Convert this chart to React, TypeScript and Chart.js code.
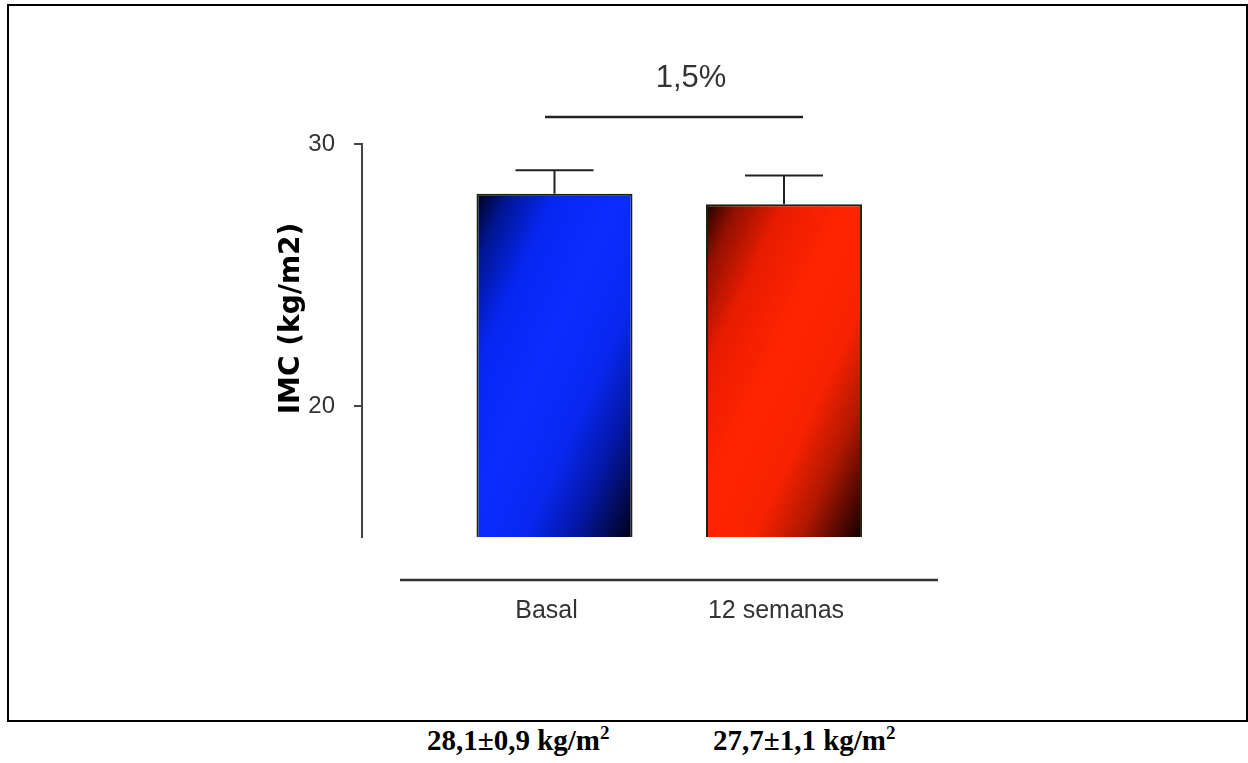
import React, { useEffect, useRef } from 'react';
import { Chart, registerables } from 'chart.js';

Chart.register(...registerables);

// ---- data ----
const categories = ['Basal', '12 semanas'];
const values = [28.1, 27.7];
const errors = [0.9, 1.1];
const yTicks = [20, 30];
const yTitle = 'IMC (kg/m2)';
const diffLabel = '1,5%';
const unitLabel = 'kg/m';

const fmt = (v: number) => v.toFixed(1).replace('.', ',');

const BLUE_STOPS: [number, string][] = [
  [0, '#000018'], [0.1, '#001590'], [0.25, '#0626f0'], [0.45, '#0a2cff'],
  [0.65, '#0828f0'], [0.8, '#0418a8'], [0.92, '#020a50'], [1, '#000010'],
];
const RED_STOPS: [number, string][] = [
  [0, '#200000'], [0.1, '#901000'], [0.25, '#e81c00'], [0.45, '#ff2400'],
  [0.65, '#f82200'], [0.8, '#b01800'], [0.92, '#500800'], [1, '#100000'],
];
const barStops = [BLUE_STOPS, RED_STOPS];
const baseColors = ['#0a2cff', '#ff2400'];

const BAR_PCT = 0.68;

export default function App() {
  const ref = useRef<HTMLCanvasElement>(null);

  useEffect(() => {
    const canvas = ref.current!;

    const decor = {
      id: 'decor',
      afterDatasetsDraw(chart: any) {
        const { ctx, chartArea } = chart;
        const xs = chart.scales.x;
        const ys = chart.scales.y;
        const meta = chart.getDatasetMeta(0);
        ctx.save();
        // error bars (upper only)
        ctx.strokeStyle = '#222';
        ctx.lineWidth = 2;
        meta.data.forEach((el: any, i: number) => {
          const x = el.x;
          const yTop = el.y;
          const yErr = ys.getPixelForValue(values[i] + errors[i]);
          const half = el.width / 4;
          ctx.beginPath();
          ctx.moveTo(x, yTop);
          ctx.lineTo(x, yErr);
          ctx.moveTo(x - half, yErr);
          ctx.lineTo(x + half, yErr);
          ctx.stroke();
        });
        // separated x-axis line
        ctx.strokeStyle = '#333';
        ctx.lineWidth = 2.5;
        const axY = chartArea.bottom + 43;
        ctx.beginPath();
        ctx.moveTo(chartArea.left + 38, axY);
        ctx.lineTo(chartArea.right, axY);
        ctx.stroke();
        // comparison bracket and label
        const by = ys.getPixelForValue(31.03);
        ctx.strokeStyle = '#222';
        ctx.lineWidth = 2.5;
        ctx.beginPath();
        ctx.moveTo(xs.getPixelForValue(0.9586), by);
        ctx.lineTo(xs.getPixelForValue(2.0828), by);
        ctx.stroke();
        ctx.fillStyle = '#333';
        ctx.font = '31px "Liberation Sans", Arial, sans-serif';
        ctx.textAlign = 'center';
        ctx.textBaseline = 'middle';
        ctx.fillText(diffLabel, xs.getPixelForValue(1.5948), ys.getPixelForValue(32.5));
        // y-axis title
        ctx.translate(chartArea.left - 70, (chartArea.top + chartArea.bottom) / 2 - 22);
        ctx.rotate(-Math.PI / 2);
        ctx.fillStyle = '#000';
        ctx.font = 'bold 28px "DejaVu Sans", sans-serif';
        ctx.fillText(yTitle, 0, 0);
        ctx.restore();
      },
    };

    const chart = new Chart(canvas, {
      type: 'bar',
      data: {
        datasets: [
          {
            data: categories.map((_, i) => ({ x: i + 1, y: values[i] })),
            backgroundColor: (c: any) => {
              if (c.type !== 'data') return baseColors[0];
              const i = c.dataIndex;
              const chart = c.chart;
              if (!chart.chartArea) return baseColors[i];
              const xs = chart.scales.x;
              const ys = chart.scales.y;
              const cx = xs.getPixelForValue(i + 1);
              const half = ((xs.getPixelForValue(2) - xs.getPixelForValue(1)) * BAR_PCT) / 2;
              const x0 = cx - half;
              const w = 2 * half;
              const y0 = ys.getPixelForValue(values[i]);
              const h = ys.getPixelForValue(ys.min) - y0;
              const s = (2 * w * h) / (w * w + h * h);
              const g = chart.ctx.createLinearGradient(x0, y0, x0 + s * h, y0 + s * w);
              barStops[i].forEach(([t, col]) => g.addColorStop(t, col));
              return g;
            },
            borderColor: '#1a2408',
            borderWidth: 2,
            borderSkipped: false,
            barPercentage: BAR_PCT,
            categoryPercentage: 1,
          },
        ],
      },
      options: {
        animation: false,
        responsive: false,
        devicePixelRatio: 1,
        layout: { padding: { left: 270, top: 144, right: 310, bottom: 63 } },
        plugins: {
          legend: { display: false },
          tooltip: { enabled: false },
        },
        scales: {
          x: {
            type: 'linear',
            offset: false,
            min: 0.1612,
            max: 2.671,
            afterBuildTicks: (s: any) => {
              s.ticks = categories.map((_, i) => ({ value: i + 1 }));
            },
            afterFit: (s: any) => {
              s.height = 120;
            },
            grid: { display: false, drawTicks: false },
            border: { display: false },
            ticks: {
              callback: (v: any) => categories[Number(v) - 1] ?? '',
              font: { family: '"Liberation Sans", Arial, sans-serif', size: 25 },
              color: '#333',
              padding: 59,
              labelOffset: -8,
              maxRotation: 0,
              autoSkip: false,
            },
          },
          y: {
            min: 15,
            max: 30,
            afterBuildTicks: (s: any) => {
              s.ticks = yTicks.map((v) => ({ value: v }));
            },
            afterFit: (s: any) => {
              s.width = 92;
            },
            grid: {
              display: true,
              drawOnChartArea: false,
              drawTicks: true,
              tickLength: 8,
              color: '#444',
              lineWidth: 2,
            },
            border: { display: true, color: '#444', width: 2 },
            ticks: {
              font: { family: '"Liberation Sans", Arial, sans-serif', size: 24 },
              color: '#333',
              padding: 19,
            },
          },
        },
      } as any,
      plugins: [decor],
    });
    return () => chart.destroy();
  }, []);

  const textStyle: React.CSSProperties = {
    position: 'absolute',
    top: 726,
    fontFamily: '"Liberation Serif", "Times New Roman", serif',
    fontWeight: 'bold',
    fontSize: 29,
    lineHeight: '28px',
    color: '#000',
    whiteSpace: 'nowrap',
  };
  const supStyle: React.CSSProperties = {
    position: 'relative',
    top: -11,
    fontSize: 19,
    verticalAlign: 'baseline',
  };
  const lefts = [427, 713];

  return (
    <div style={{ position: 'absolute', left: 0, top: 0, width: 1248, height: 763, background: '#fff' }}>
      <div
        style={{
          position: 'absolute',
          left: 7,
          top: 4,
          width: 1241,
          height: 718,
          border: '2px solid #000',
          boxSizing: 'border-box',
        }}
      />
      <canvas
        ref={ref}
        width={1248}
        height={720}
        style={{ position: 'absolute', left: 0, top: 0, width: 1248, height: 720, display: 'block' }}
      />
      {categories.map((c, i) => (
        <div key={c} style={{ ...textStyle, left: lefts[i] }}>
          {`${fmt(values[i])}±${fmt(errors[i])} ${unitLabel}`}
          <span style={supStyle}>2</span>
        </div>
      ))}
    </div>
  );
}
